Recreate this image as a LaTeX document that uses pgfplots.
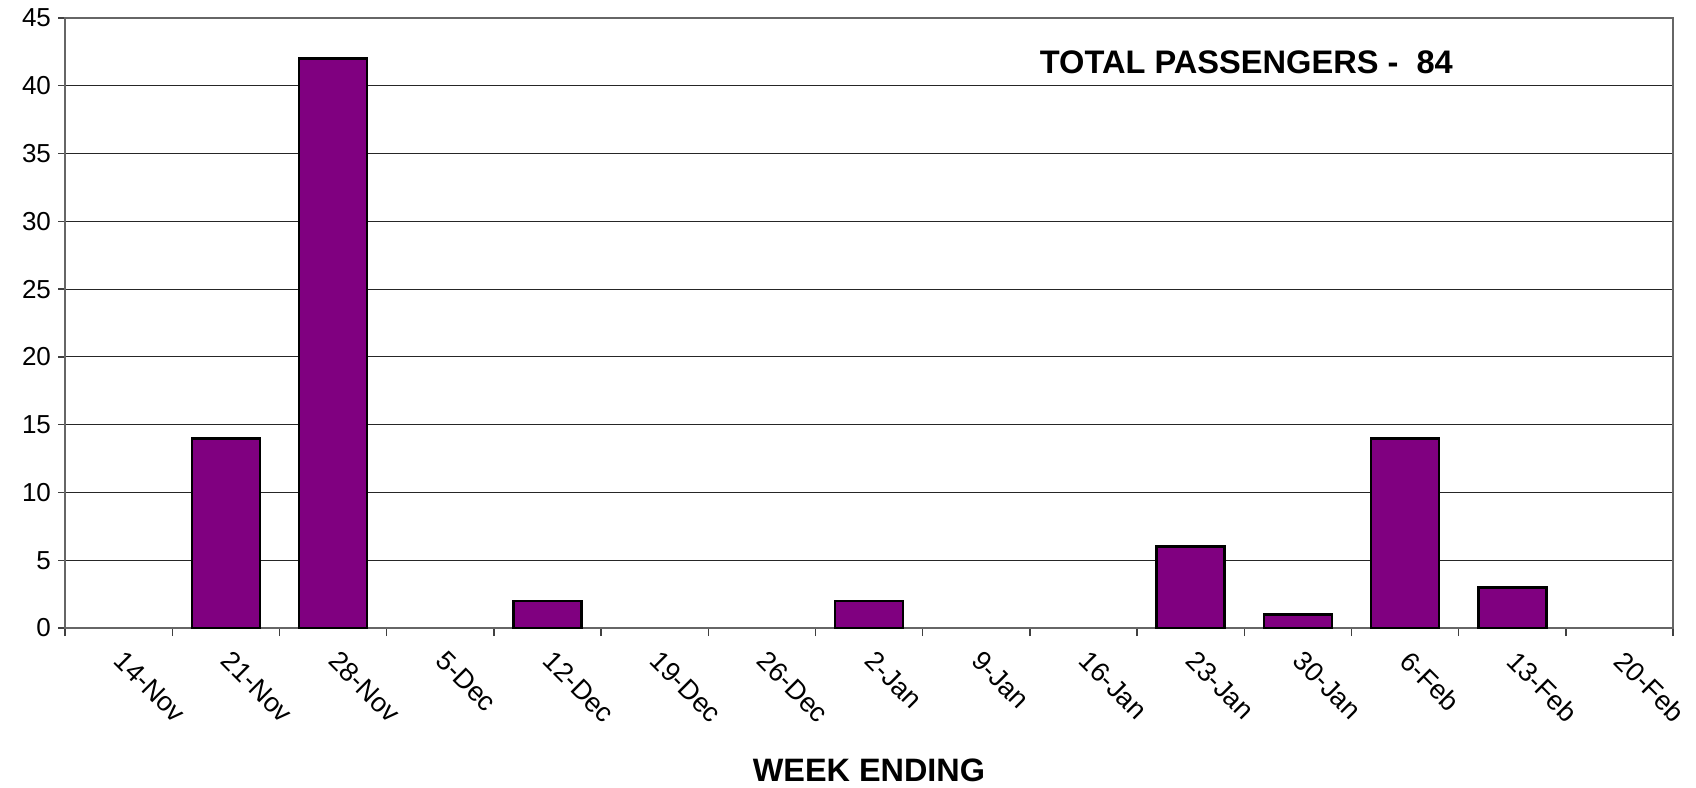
\documentclass[border=0pt]{standalone}
\usepackage{pgfplots}
\pgfplotsset{compat=1.18}
\usepackage{fontspec}
\setmainfont{Liberation Sans}
\definecolor{barpurple}{HTML}{800080}
\begin{document}
\begin{tikzpicture}
\path[use as bounding box] (-32.5pt,-79.5pt) rectangle (815.5pt,314pt);
\begin{axis}[
  at={(0,0)}, anchor=south west,
  scale only axis, width=804pt, height=305pt,
  xmin=-0.5, xmax=14.5, ymin=0, ymax=45,
  ytick={0,5,...,45},
  xtick={0,...,14},
  xticklabels={14-Nov,21-Nov,28-Nov,5-Dec,12-Dec,19-Dec,26-Dec,2-Jan,9-Jan,16-Jan,23-Jan,30-Jan,6-Feb,13-Feb,20-Feb},
  minor xtick={-0.5,0.5,...,14.5},
  major x tick style={draw=none},
  minor tick length=4pt,
  major tick length=3.5pt,
  tick align=outside,
  xtick pos=bottom, ytick pos=left,
  ymajorgrids,
  grid style={black!85, line width=0.55pt},
  axis line style={black!60, line width=0.8pt},
  tick style={black!75, line width=0.7pt},
  /pgf/number format/assume math mode=true,
  tick label style={font=\fontsize{13}{15}\selectfont},
  xticklabel style={font=\fontsize{13.5}{16}\selectfont, rotate=-45, anchor=north west, xshift=6.5pt, yshift=-1.3pt, inner sep=1pt},
  xlabel={\bfseries WEEK ENDING},
  xlabel style={font=\fontsize{16.2}{19}\selectfont, at={(axis description cs:0.5,0)}, anchor=center, yshift=-71pt},
  clip=false,
]
\addplot[ybar, bar width=34pt, fill=barpurple, draw=black, line width=1.3pt]
  coordinates {(1,14) (2,42) (4,2) (7,2) (10,6) (11,1) (12,14) (13,3)};
\node[anchor=west, inner sep=0pt, font=\fontsize{16.3}{19}\selectfont\bfseries] at (rel axis cs:0.606,0.928) {TOTAL PASSENGERS -\ \ 84};
\end{axis}
\end{tikzpicture}
\end{document}
